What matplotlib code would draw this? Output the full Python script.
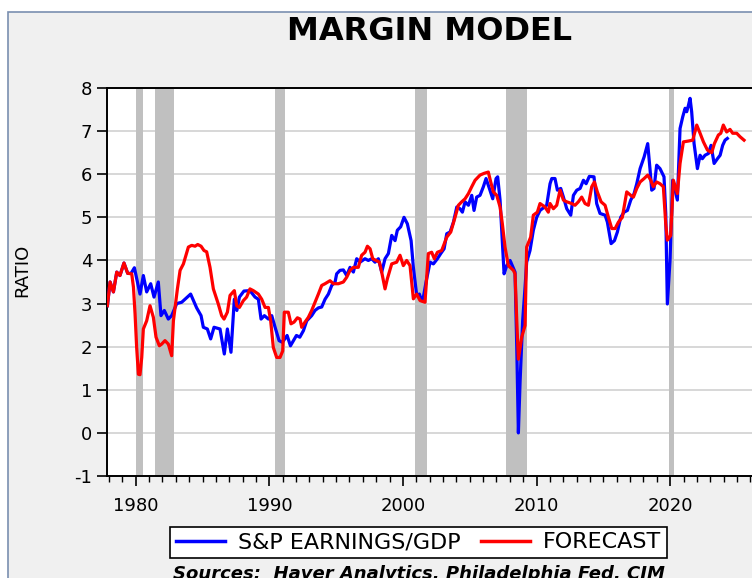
import matplotlib
matplotlib.use("Agg")
import matplotlib.pyplot as plt
from matplotlib.ticker import MultipleLocator
from matplotlib.patches import Rectangle

# S&P earnings / GDP (blue)
EARN_YEARS = [1977.88, 1978.08, 1978.33, 1978.58, 1978.82, 1979.12, 1979.4, 1979.65, 1979.9,
              1980.32, 1980.57, 1980.82, 1981.12, 1981.37, 1981.69, 1981.89, 1982.14, 1982.44,
              1982.69, 1983.07, 1983.44, 1984.11, 1984.56, 1984.89, 1985.06, 1985.36, 1985.61,
              1985.86, 1986.31, 1986.63, 1986.86, 1987.13, 1987.38, 1987.57, 1987.76, 1988.1,
              1988.55, 1988.93, 1989.18, 1989.38, 1989.63, 1989.93, 1990.18, 1990.43, 1990.73,
              1990.98, 1991.33, 1991.58, 1992.03, 1992.28, 1992.55, 1992.8, 1993.17, 1993.42,
              1993.67, 1993.92, 1994.17, 1994.42, 1994.67, 1994.92, 1995.04, 1995.29, 1995.54,
              1995.79, 1996.04, 1996.29, 1996.54, 1996.79, 1997.16, 1997.41, 1997.66, 1997.91,
              1998.16, 1998.41, 1998.66, 1998.91, 1999.16, 1999.41, 1999.58, 1999.83, 2000.08,
              2000.33, 2000.61, 2000.78, 2001.03, 2001.23, 2001.4, 2001.53, 2001.73, 2002.03,
              2002.28, 2002.58, 2002.83, 2003.08, 2003.28, 2003.53, 2003.78, 2004.03, 2004.27,
              2004.45, 2004.65, 2004.9, 2005.15, 2005.32, 2005.52, 2005.77, 2006.02, 2006.22,
              2006.47, 2006.72, 2006.97, 2007.09, 2007.27, 2007.39, 2007.57, 2007.77, 2008.02,
              2008.39, 2008.52, 2008.64, 2008.77, 2008.96, 2009.14, 2009.26, 2009.51, 2009.76,
              2010.01, 2010.26, 2010.76, 2011.01, 2011.14, 2011.38, 2011.56, 2011.81, 2012.01,
              2012.26, 2012.56, 2012.76, 2013.01, 2013.26, 2013.51, 2013.71, 2013.95, 2014.3,
              2014.5, 2014.75, 2015.13, 2015.3, 2015.58, 2015.83, 2016.05, 2016.3, 2016.55,
              2016.8, 2017.05, 2017.3, 2017.5, 2017.75, 2018.05, 2018.32, 2018.5, 2018.62,
              2018.79, 2018.99, 2019.24, 2019.54, 2019.67, 2019.79, 2019.99, 2020.19, 2020.54,
              2020.74, 2020.94, 2021.12, 2021.24, 2021.37, 2021.49, 2021.61, 2021.79, 2022.04,
              2022.24, 2022.41, 2022.61, 2022.86, 2023.06, 2023.29, 2023.54, 2023.74, 2023.93,
              2024.11, 2024.28]
EARN_VALS = [2.95, 3.5, 3.27, 3.73, 3.65, 3.94, 3.7, 3.7, 3.83,
             3.22, 3.65, 3.27, 3.46, 3.15, 3.5, 2.72, 2.84, 2.64,
             2.72, 3.0, 3.03, 3.22, 2.9, 2.72, 2.45, 2.41, 2.18,
             2.45, 2.41, 1.83, 2.41, 1.87, 3.1, 2.84, 3.15, 3.29,
             3.3, 3.15, 3.1, 2.64, 2.72, 2.64, 2.72, 2.45, 2.14,
             2.1, 2.26, 2.02, 2.26, 2.22, 2.37, 2.6, 2.72, 2.84,
             2.9, 2.92, 3.1, 3.22, 3.42, 3.5, 3.69, 3.77, 3.78,
             3.65, 3.84, 3.73, 4.04, 3.96, 4.04, 4.0, 4.04, 3.96,
             4.04, 3.73, 4.04, 4.16, 4.58, 4.46, 4.7, 4.78, 5.0,
             4.85, 4.46, 3.84, 3.19, 3.22, 3.07, 3.15, 3.5, 3.96,
             3.92, 4.04, 4.16, 4.27, 4.62, 4.66, 4.89, 5.24, 5.2,
             5.12, 5.36, 5.28, 5.51, 5.16, 5.47, 5.51, 5.71, 5.9,
             5.67, 5.43, 5.9, 5.94, 5.4, 4.7, 3.69, 3.88, 4.0,
             3.73, 1.98, 0.0, 1.21, 2.6, 3.38, 3.96, 4.23, 4.7,
             5.0, 5.16, 5.28, 5.78, 5.9, 5.9, 5.63, 5.67, 5.47,
             5.2, 5.05, 5.51, 5.63, 5.67, 5.86, 5.78, 5.95, 5.94,
             5.32, 5.09, 5.05, 4.89, 4.39, 4.46, 4.66, 5.0, 5.12,
             5.16, 5.4, 5.55, 5.78, 6.13, 6.4, 6.71, 6.09, 5.63,
             5.67, 6.21, 6.13, 5.94, 5.09, 2.99, 4.0, 5.86, 5.4,
             7.06, 7.33, 7.53, 7.45, 7.6, 7.76, 7.45, 6.71, 6.13,
             6.44, 6.36, 6.44, 6.48, 6.67, 6.25, 6.36, 6.44, 6.67,
             6.79, 6.83]

# model forecast (red)
FCST_YEARS = [1977.88, 1978.08, 1978.33, 1978.58, 1978.82, 1979.12, 1979.4, 1979.7, 1979.83,
              1979.95, 1980.07, 1980.2, 1980.32, 1980.45, 1980.57, 1980.82, 1981.07, 1981.32,
              1981.52, 1981.77, 1981.94, 1982.19, 1982.44, 1982.69, 1982.82, 1983.12, 1983.32,
              1983.57, 1983.94, 1984.19, 1984.44, 1984.64, 1984.89, 1985.11, 1985.31, 1985.56,
              1985.81, 1986.18, 1986.43, 1986.61, 1986.86, 1987.06, 1987.38, 1987.56, 1987.76,
              1988.06, 1988.3, 1988.55, 1988.8, 1989.18, 1989.43, 1989.68, 1989.93, 1990.1,
              1990.3, 1990.55, 1990.8, 1991.0, 1991.12, 1991.42, 1991.62, 1991.85, 1992.1,
              1992.3, 1992.42, 1992.67, 1992.92, 1993.17, 1993.42, 1993.67, 1993.92, 1994.17,
              1994.54, 1994.79, 1995.17, 1995.54, 1995.79, 1996.04, 1996.29, 1996.66, 1996.91,
              1997.16, 1997.34, 1997.54, 1997.74, 1997.99, 1998.24, 1998.41, 1998.66, 1998.83,
              1999.16, 1999.53, 1999.78, 2000.03, 2000.28, 2000.53, 2000.78, 2001.03, 2001.28,
              2001.65, 2001.9, 2002.15, 2002.35, 2002.58, 2002.9, 2003.28, 2003.58, 2003.9,
              2004.15, 2004.4, 2004.65, 2004.9, 2005.15, 2005.4, 2005.77, 2006.07, 2006.39,
              2006.57, 2006.77, 2007.02, 2007.27, 2007.44, 2007.64, 2007.89, 2008.27, 2008.39,
              2008.52, 2008.64, 2008.89, 2009.14, 2009.26, 2009.56, 2009.76, 2010.06, 2010.26,
              2010.63, 2010.88, 2011.01, 2011.26, 2011.51, 2011.76, 2012.01, 2012.26, 2012.63,
              2012.88, 2013.13, 2013.38, 2013.63, 2013.88, 2014.13, 2014.33, 2014.55, 2014.83,
              2015.13, 2015.38, 2015.63, 2015.88, 2016.13, 2016.42, 2016.75, 2017.05, 2017.25,
              2017.5, 2017.75, 2018.05, 2018.32, 2018.55, 2018.74, 2018.99, 2019.24, 2019.49,
              2019.67, 2019.79, 2020.04, 2020.24, 2020.54, 2020.74, 2020.99, 2021.37, 2021.69,
              2021.99, 2022.24, 2022.49, 2022.79, 2023.11, 2023.31, 2023.61, 2023.79, 2023.98,
              2024.23, 2024.48, 2024.68, 2024.98, 2025.23, 2025.53]
FCST_VALS = [2.95, 3.5, 3.27, 3.73, 3.65, 3.94, 3.7, 3.69, 3.38,
             2.76, 1.98, 1.36, 1.35, 1.75, 2.41, 2.6, 2.95, 2.68,
             2.22, 2.02, 2.06, 2.14, 2.06, 1.79, 2.6, 3.34, 3.77,
             3.92, 4.31, 4.35, 4.33, 4.37, 4.33, 4.23, 4.2, 3.84,
             3.34, 2.99, 2.72, 2.64, 2.8, 3.19, 3.3, 2.95, 2.91,
             3.07, 3.15, 3.34, 3.3, 3.22, 3.1, 2.91, 2.91, 2.6,
             1.98, 1.75, 1.75, 1.9, 2.8, 2.8, 2.53, 2.57, 2.67,
             2.64, 2.45, 2.57, 2.68, 2.84, 3.03, 3.22, 3.42, 3.46,
             3.53, 3.46, 3.46, 3.5, 3.61, 3.77, 3.84, 3.84, 4.12,
             4.19, 4.33, 4.27, 4.04, 4.0, 3.96, 3.73, 3.34, 3.57,
             3.92, 3.96, 4.12, 3.88, 4.0, 3.88, 3.11, 3.22, 3.07,
             3.03, 4.16, 4.19, 4.04, 4.19, 4.23, 4.54, 4.66, 5.0,
             5.28, 5.36, 5.43, 5.55, 5.71, 5.86, 5.98, 6.02, 6.05,
             5.82, 5.59, 5.51, 5.24, 4.85, 4.31, 3.88, 3.77, 3.69,
             2.6, 1.71, 2.22, 2.49, 4.31, 4.54, 5.05, 5.12, 5.32,
             5.24, 5.12, 5.32, 5.2, 5.28, 5.63, 5.4, 5.36, 5.32,
             5.28, 5.36, 5.47, 5.32, 5.28, 5.71, 5.82, 5.59, 5.36,
             5.28, 5.0, 4.74, 4.74, 4.89, 5.0, 5.59, 5.51, 5.47,
             5.67, 5.82, 5.9, 5.98, 5.86, 5.71, 5.82, 5.78, 5.71,
             4.85, 4.47, 4.58, 5.86, 5.55, 6.25, 6.75, 6.77, 6.79,
             7.14, 6.95, 6.75, 6.56, 6.5, 6.71, 6.91, 6.95, 7.14,
             6.98, 7.04, 6.95, 6.95, 6.87, 6.79]

# recession periods (start, end)
RECESSIONS = [(1980.0, 1980.58), (1981.45, 1982.85), (1990.45, 1991.15),
              (2000.9, 2001.8), (2007.75, 2009.3), (2019.95, 2020.3)]

plt.rcParams['font.family'] = 'DejaVu Sans'
plt.rcParams['axes.unicode_minus'] = False

fig = plt.figure(figsize=(7.52, 5.78), dpi=100)
fig.patch.set_facecolor('white')

# outer panel background with border (left/top visible)
panel = Rectangle((8 / 752, -0.1), 1.2, 1 - 12 / 578 + 0.1, transform=fig.transFigure,
                  facecolor='#f0f0f0', edgecolor='#7a8fb0', linewidth=1.2, zorder=-10)
fig.patches.append(panel)

ax = fig.add_axes([107 / 752, 1 - 476 / 578, 650 / 752, (476 - 88) / 578])
ax.set_facecolor('white')

for s, e in RECESSIONS:
    ax.axvspan(s, e, color='#c0c0c0', lw=0, zorder=1)

ax.plot(EARN_YEARS, EARN_VALS, color='#0000ff', lw=2.3, zorder=3, label='S&P EARNINGS/GDP')
ax.plot(FCST_YEARS, FCST_VALS, color='#ff0000', lw=2.3, zorder=4, label='FORECAST')

ax.set_xlim(1977.85, 2026.5)
ax.set_ylim(-1, 8)
ax.yaxis.set_major_locator(MultipleLocator(1))
ax.xaxis.set_major_locator(MultipleLocator(10))
ax.xaxis.set_minor_locator(MultipleLocator(1))
ax.grid(axis='y', color='#d4d4d4', lw=1.3, zorder=0)
ax.set_axisbelow(True)

for side in ['left', 'top', 'bottom']:
    ax.spines[side].set_linewidth(1.4)
ax.spines['right'].set_visible(False)
ax.tick_params(axis='both', which='major', direction='out', length=7, width=1.2, labelsize=13)
ax.tick_params(axis='x', which='minor', direction='out', length=4, width=1.0)
ax.tick_params(axis='x', pad=8)

fig.text(0.029, 0.533, 'RATIO', rotation=90, ha='center', va='center', fontsize=13)
fig.text(430 / 752, 1 - 32 / 578, 'MARGIN MODEL', ha='center', va='center',
         fontsize=23, fontweight='bold')

leg = fig.legend(loc='center', bbox_to_anchor=(418.5 / 752, 1 - 542.5 / 578), ncol=2,
                 fontsize=16, frameon=True, fancybox=False, framealpha=1,
                 edgecolor='black', handlelength=2.2, handletextpad=0.6,
                 columnspacing=0.9, borderpad=0.25)
leg.get_frame().set_linewidth(1.2)
for line in leg.get_lines():
    line.set_linewidth(2.5)

fig.text(173 / 752, 1 - 565 / 578, 'Sources:  Haver Analytics, Philadelphia Fed, CIM',
         ha='left', va='top', fontsize=13, fontweight='bold', fontstyle='italic')

fig.savefig('out.png', dpi=100, facecolor=fig.get_facecolor())
